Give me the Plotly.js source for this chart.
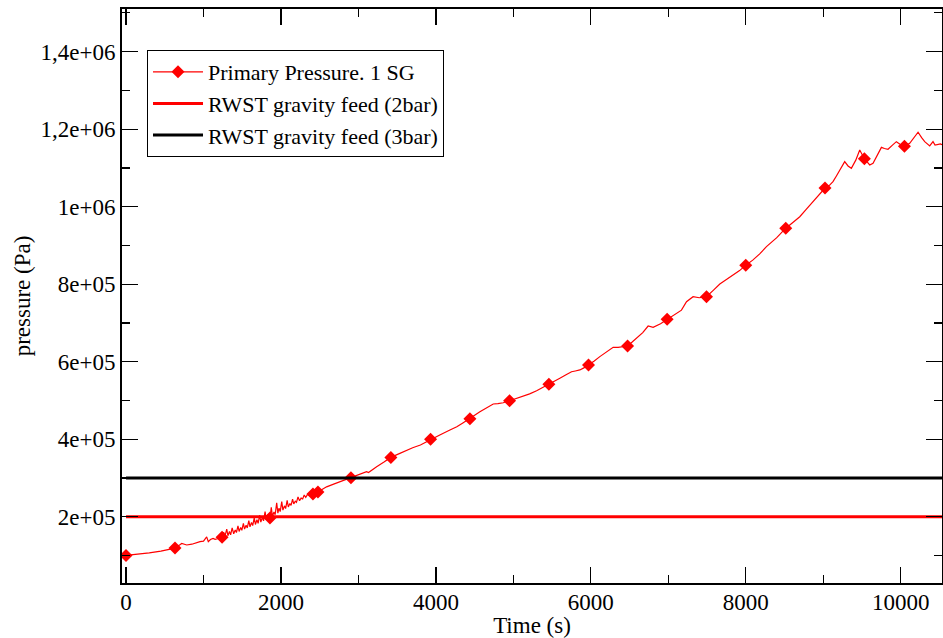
<!DOCTYPE html>
<html>
<head>
<meta charset="utf-8">
<script src="https://cdn.plot.ly/plotly-3.0.1.min.js"></script>
<style>html,body{margin:0;padding:0;background:#fff;}#chart{width:943px;height:638px;}</style>
</head>
<body>
<div id="chart"></div>
<script>
// Primary pressure (1 SG) — dense trace
const time = [
  0, 150, 300, 450, 632, 700, 720, 783, 850, 955, 1000, 1041, 1062, 1090, 1123, 1150,
  1180, 1200, 1215, 1240, 1260, 1275, 1300, 1315, 1335, 1350, 1370, 1390, 1410, 1425, 1445, 1460,
  1480, 1495, 1515, 1530, 1550, 1565, 1585, 1600, 1620, 1635, 1655, 1670, 1690, 1705, 1725, 1740,
  1760, 1775, 1795, 1810, 1830, 1845, 1858, 1875, 1890, 1910, 1925, 1945, 1960, 1975, 1990, 2010,
  2025, 2045, 2060, 2080, 2095, 2115, 2130, 2150, 2165, 2185, 2200, 2220, 2240, 2260, 2280, 2300,
  2320, 2345, 2370, 2395, 2413, 2440, 2477, 2530, 2589, 2680, 2761, 2840, 2903, 2980, 3050, 3105,
  3130, 3180, 3235, 3330, 3419, 3520, 3622, 3700, 3800, 3931, 4050, 4181, 4270, 4353, 4439, 4500,
  4568, 4650, 4740, 4800, 4869, 4951, 5040, 5124, 5210, 5300, 5380, 5458, 5530, 5600, 5680, 5751,
  5800, 5858, 5910, 5970, 6040, 6116, 6200, 6288, 6352, 6400, 6474, 6530, 6590, 6670, 6740, 6804,
  6900, 6985, 7080, 7170, 7235, 7270, 7320, 7400, 7493, 7580, 7665, 7750, 7830, 7920, 8000, 8090,
  8180, 8267, 8400, 8516, 8600, 8697, 8780, 8869, 8950, 9023, 9080, 9126, 9170, 9230, 9277, 9320,
  9363, 9420, 9471, 9531, 9600, 9643, 9700, 9751, 9790, 9836, 9890, 9944, 10000, 10048, 10116, 10170,
  10224, 10270, 10310, 10374, 10417, 10443, 10513, 10560
];
const pressure = [
  100000, 103000, 106500, 111000, 119000, 128000, 131000, 127000, 129000, 135500, 137000, 148000, 135500, 141000, 144000, 141500,
  143000, 150000, 144000, 146800, 160000, 148000, 168000, 151000, 162000, 153000, 171000, 156000, 166000, 159000, 176000, 162000,
  172000, 165000, 183000, 168000, 178000, 171000, 190000, 174000, 185000, 177000, 197000, 180000, 192000, 183000, 204000, 186000,
  199000, 189000, 213000, 192000, 205000, 195000, 196600, 224000, 201000, 212000, 205000, 236000, 209000, 222000, 213000, 239000,
  217000, 228000, 221000, 242000, 225000, 234000, 229000, 245000, 233000, 240000, 237000, 251000, 241000, 248000, 246000, 256000,
  250000, 258000, 254000, 259000, 258600, 262000, 263700, 270000, 277000, 284000, 290000, 296000, 300600, 306000, 311000, 316000,
  314000, 322000, 329000, 341000, 353000, 362000, 372000, 378000, 385000, 399700, 411000, 423700, 432000, 442600, 452900, 462000,
  471000, 481000, 490800, 492000, 494000, 499300, 505000, 511500, 517000, 525000, 533000, 541600, 549000, 557000, 566000, 574000,
  576000, 578600, 584000, 591500, 601000, 613000, 625000, 637000, 637000, 638000, 640500, 650000, 660000, 675000, 692000, 688700,
  698000, 709400, 720000, 733000, 754800, 760000, 767700, 765000, 767700, 784000, 800500, 812000, 822000, 835000, 849000, 862000,
  878000, 896800, 920000, 944500, 958000, 974000, 993000, 1013000, 1030000, 1048000, 1055000, 1064500, 1079000, 1098000, 1116000, 1105000,
  1099000, 1120000, 1146000, 1123800, 1107600, 1112000, 1135000, 1153000, 1150000, 1148000, 1158000, 1167700, 1160000, 1156000, 1163600, 1178000,
  1192000, 1178000, 1167700, 1156600, 1167700, 1159000, 1161700, 1158000
];
// times at which the symbols of the primary pressure curve are drawn
const markerTime = [0, 632, 1240, 1858, 2413, 2477, 2903, 3419, 3931, 4439, 4951, 5458, 5970,
  6474, 6985, 7493, 8000, 8516, 9023, 9531, 10048];

// RWST gravity feed levels
const feedTime = [0, 11000];
const feed2bar = [200000, 200000];
const feed3bar = [300000, 300000];

// axis ticks
const yTickVals = [200000, 400000, 600000, 800000, 1000000, 1200000, 1400000];
const yTickText = ["2e+05", "4e+05", "6e+05", "8e+05", "1e+06", "1,2e+06", "1,4e+06"];

const markerColors = time.map(t => markerTime.includes(t) ? "#ff0000" : "rgba(255,0,0,0)");

const FONT = "'Liberation Serif', 'Times New Roman', Times, serif";
const FS = 23;
const LFS = 22;

const traces = [
  {
    x: time, y: pressure, type: "scatter", mode: "lines+markers",
    name: "Primary Pressure. 1 SG",
    line: {color: "#ff0000", width: 1.2},
    marker: {symbol: "diamond", color: markerColors, size: 10, line: {width: 0}}
  },
  {
    x: feedTime, y: feed2bar, type: "scatter", mode: "lines",
    name: "RWST gravity feed (2bar)",
    line: {color: "#ff0000", width: 3}
  },
  {
    x: feedTime, y: feed3bar, type: "scatter", mode: "lines",
    name: "RWST gravity feed (3bar)",
    line: {color: "#000000", width: 3}
  }
];

const layout = {
  width: 943, height: 638,
  margin: {l: 122, r: 1, t: 9, b: 55, pad: 0},
  paper_bgcolor: "#ffffff", plot_bgcolor: "#ffffff",
  font: {family: FONT, size: FS, color: "#000000"},
  showlegend: true,
  legend: {
    x: 0.0305, y: 0.9286, xanchor: "left", yanchor: "top",
    bgcolor: "#ffffff", bordercolor: "#000000", borderwidth: 1,
    font: {family: FONT, size: LFS, color: "#000000"},
    itemwidth: 50, tracegroupgap: 0
  },
  xaxis: {
    range: [-52, 10533], tick0: 0, dtick: 2000, tickformat: "d",
    showgrid: false, zeroline: false,
    showline: true, linecolor: "#000000", linewidth: 2, mirror: "allticks",
    ticks: "inside", ticklen: 16, tickwidth: 1.2, tickcolor: "#000000",
    minor: {dtick: 1000, ticks: "inside", ticklen: 8, tickwidth: 1.2, tickcolor: "#000000", showgrid: false},
    tickfont: {family: FONT, size: FS}, ticklabelstandoff: -3,
    title: {text: "Time (s)", font: {family: FONT, size: FS}, standoff: 0},
    automargin: false
  },
  yaxis: {
    range: [28900, 1510000],
    tickmode: "array", tickvals: yTickVals, ticktext: yTickText,
    showgrid: false, zeroline: false,
    showline: true, linecolor: "#000000", linewidth: 2, mirror: "allticks",
    ticks: "inside", ticklen: 16, tickwidth: 1.2, tickcolor: "#000000",
    minor: {tickmode: "linear", tick0: 0, dtick: 100000, ticks: "inside", ticklen: 8, tickwidth: 1.2, tickcolor: "#000000", showgrid: false},
    tickfont: {family: FONT, size: FS},
    title: {text: "pressure (Pa)", font: {family: FONT, size: FS}, standoff: 3},
    automargin: false
  }
};

Plotly.newPlot("chart", traces, layout, {displayModeBar: false, staticPlot: true});
</script>
</body>
</html>
